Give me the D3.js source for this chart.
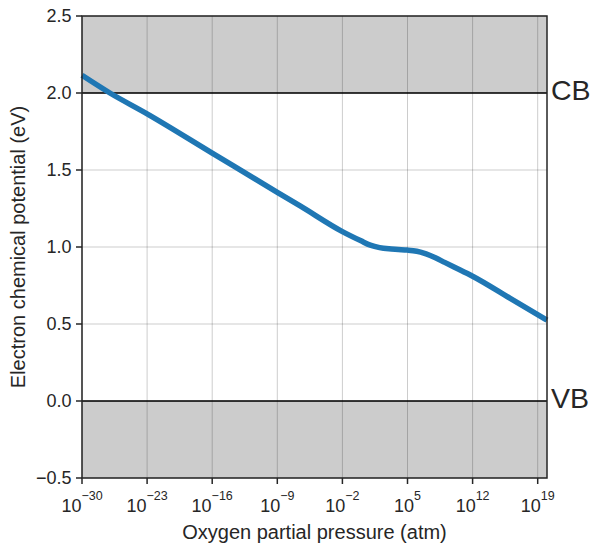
<!DOCTYPE html>
<html lang="en">
<head>
<meta charset="UTF-8">
<title>Electron chemical potential</title>
<style>
    body { margin: 0; background: #fff; }
    text { font-family: "Liberation Sans", Arial, sans-serif; fill: #262626; }
</style>
</head>
<body>
<script src="https://d3js.org/d3.v7.min.js"></script>
<script>
// log10 of oxygen partial pressure (atm) and electron chemical potential (eV)
const logPO2 = [-30, -27, -23, -16, -9, -6.5, -2, 0, 1, 2, 3, 4, 5, 6, 7, 8, 9, 10, 12, 16, 20];
const muE = [2.115, 2.0, 1.865, 1.61, 1.355, 1.265, 1.10, 1.04, 1.012, 0.996, 0.988, 0.984, 0.98, 0.972, 0.955, 0.93, 0.90, 0.87, 0.81, 0.668, 0.525];

const xTickExps = [-30, -23, -16, -9, -2, 5, 12, 19];
const yTicks = [-0.5, 0.0, 0.5, 1.0, 1.5, 2.0, 2.5];
const bandEdges = [{ name: "CB", value: 2.0 }, { name: "VB", value: 0.0 }];

const W = 602, H = 551;
const margin = { top: 16, right: 55, bottom: 73, left: 82 };
const w = W - margin.left - margin.right;
const h = H - margin.top - margin.bottom;

const svg = d3.select("body").append("svg")
    .attr("width", W)
    .attr("height", H);

const g = svg.append("g")
    .attr("transform", `translate(${margin.left},${margin.top})`);

const x = d3.scaleLog().domain([1e-30, 1e20]).range([0, w]);
const y = d3.scaleLinear().domain([-0.5, 2.5]).range([h, 0]);

// shaded band regions
g.append("rect")
    .attr("x", 0).attr("y", y(2.5))
    .attr("width", w).attr("height", y(2.0) - y(2.5))
    .attr("fill", "#cccccc");
g.append("rect")
    .attr("x", 0).attr("y", y(0))
    .attr("width", w).attr("height", y(-0.5) - y(0))
    .attr("fill", "#cccccc");

// grid
g.selectAll(".vgrid").data(xTickExps).enter().append("line")
    .attr("x1", d => x(Math.pow(10, d))).attr("x2", d => x(Math.pow(10, d)))
    .attr("y1", 0).attr("y2", h)
    .attr("stroke", "rgba(0,0,0,0.2)").attr("stroke-width", 1);
g.selectAll(".hgrid").data(yTicks).enter().append("line")
    .attr("x1", 0).attr("x2", w)
    .attr("y1", d => y(d)).attr("y2", d => y(d))
    .attr("stroke", "rgba(0,0,0,0.2)").attr("stroke-width", 1);

// band edge lines + labels
g.selectAll(".edge").data(bandEdges).enter().append("line")
    .attr("x1", 0).attr("x2", w)
    .attr("y1", d => y(d.value)).attr("y2", d => y(d.value))
    .attr("stroke", "#000").attr("stroke-width", 1.6);
g.selectAll(".edgeLabel").data(bandEdges).enter().append("text")
    .attr("x", w + 4)
    .attr("y", d => y(d.value) + 6.5)
    .attr("font-size", 28.5)
    .text(d => d.name);

// curve
const pts = logPO2.map((l, i) => [Math.pow(10, l), muE[i]]);
g.append("path")
    .datum(pts)
    .attr("fill", "none")
    .attr("stroke", "#1f77b4")
    .attr("stroke-width", 5.5)
    .attr("d", d3.line().x(d => x(d[0])).y(d => y(d[1])).curve(d3.curveMonotoneX));

// frame
g.append("rect")
    .attr("x", 0).attr("y", 0).attr("width", w).attr("height", h)
    .attr("fill", "none").attr("stroke", "#262626").attr("stroke-width", 1.5);

// y axis ticks
const yt = g.selectAll(".ytick").data(yTicks).enter().append("g")
    .attr("transform", d => `translate(0,${y(d)})`);
yt.append("line").attr("x1", -6).attr("x2", 0).attr("stroke", "#262626").attr("stroke-width", 1.5);
yt.append("text")
    .attr("x", -10.5).attr("dy", "0.36em")
    .attr("text-anchor", "end")
    .attr("font-size", 18)
    .text(d => d3.format(".1f")(d).replace("-", "\u2212"));

// x axis ticks
const xt = g.selectAll(".xtick").data(xTickExps).enter().append("g")
    .attr("transform", d => `translate(${x(Math.pow(10, d))},${h})`);
xt.append("line").attr("y1", 0).attr("y2", 6).attr("stroke", "#262626").attr("stroke-width", 1.5);
const lab = xt.append("text")
    .attr("y", 34)
    .attr("text-anchor", "middle")
    .attr("font-size", 18);
lab.append("tspan").text("10");
lab.append("tspan")
    .attr("dy", -12.5)
    .attr("font-size", 12.5)
    .text(d => String(d).replace("-", "\u2212"));

// axis labels
svg.append("text")
    .attr("x", margin.left + w / 2)
    .attr("y", 538.5)
    .attr("text-anchor", "middle")
    .attr("font-size", 20)
    .text("Oxygen partial pressure (atm)");
svg.append("text")
    .attr("transform", `translate(24.5,${margin.top + h / 2}) rotate(-90)`)
    .attr("text-anchor", "middle")
    .attr("font-size", 20)
    .text("Electron chemical potential (eV)");
</script>
</body>
</html>
